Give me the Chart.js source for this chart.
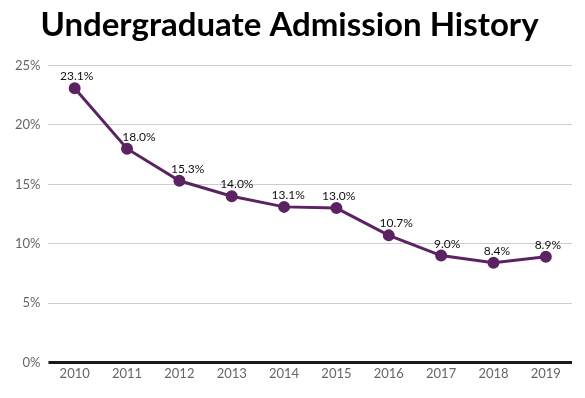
<!DOCTYPE html>
<html>
<head>
<meta charset="utf-8">
<script src="https://cdn.jsdelivr.net/npm/chart.js@4"></script>
<style>
  html, body { margin: 0; padding: 0; background: #fff; }
  #wrap { width: 585px; height: 398px; position: relative; }
</style>
</head>
<body>
<div id="wrap"><canvas id="chart"></canvas></div>
<script>
// Data
const years = ['2010', '2011', '2012', '2013', '2014', '2015', '2016', '2017', '2018', '2019'];
const admitRates = [23.1, 18.0, 15.3, 14.0, 13.1, 13.0, 10.7, 9.0, 8.4, 8.9];
const yTicks = [0, 5, 10, 15, 20, 25];

const lineColor = '#5c2362';

// draws the value above each point; nudges right when the line comes down steeply into it
const pointLabels = {
  id: 'pointLabels',
  afterDatasetsDraw(chart) {
    const ctx = chart.ctx;
    const pts = chart.getDatasetMeta(0).data;
    ctx.save();
    ctx.font = '12px Lato, "DejaVu Sans", sans-serif';
    ctx.fillStyle = '#111';
    ctx.textAlign = 'center';
    ctx.textBaseline = 'alphabetic';
    pts.forEach((pt, i) => {
      const drop = i > 0 ? Math.max(0, pt.y - pts[i - 1].y) : 0;
      const dx = Math.min(12, 2 + drop / 5);
      ctx.fillText(admitRates[i].toFixed(1) + '%', pt.x + dx, pt.y - 8);
    });
    ctx.restore();
  }
};

// thick baseline at 0%
const zeroLine = {
  id: 'zeroLine',
  beforeDatasetsDraw(chart) {
    const { ctx, chartArea, scales } = chart;
    const y = scales.y.getPixelForValue(0);
    ctx.save();
    ctx.strokeStyle = '#1a1a1a';
    ctx.lineWidth = 3;
    ctx.beginPath();
    ctx.moveTo(chartArea.left, y);
    ctx.lineTo(chartArea.right, y);
    ctx.stroke();
    ctx.restore();
  }
};

new Chart(document.getElementById('chart'), {
  type: 'line',
  data: {
    labels: years,
    datasets: [{
      label: 'Admission rate',
      data: admitRates,
      borderColor: lineColor,
      backgroundColor: lineColor,
      borderWidth: 3,
      pointRadius: 4.5,
      pointHoverRadius: 4.5,
      tension: 0
    }]
  },
  options: {
    responsive: true,
    maintainAspectRatio: false,
    animation: false,
    layout: { padding: { left: 7, right: 13, top: 0, bottom: 12 } },
    scales: {
      x: {
        offset: true,
        grid: { display: false, drawTicks: false },
        border: { display: false },
        ticks: {
          color: '#666',
          padding: 4,
          font: { family: 'Lato, "DejaVu Sans", sans-serif', size: 13 }
        }
      },
      y: {
        min: 0,
        max: 25,
        afterBuildTicks: axis => { axis.ticks = yTicks.map(v => ({ value: v })); },
        grid: { color: '#cccccc', lineWidth: 1, drawTicks: false },
        border: { display: false },
        ticks: {
          color: '#666',
          padding: 8,
          font: { family: 'Lato, "DejaVu Sans", sans-serif', size: 13 },
          callback: v => v + '%'
        }
      }
    },
    plugins: {
      legend: { display: false },
      tooltip: { enabled: false },
      title: {
        display: true,
        text: 'Undergraduate Admission History',
        color: '#000',
        font: { family: 'Lato, sans-serif', size: 33, weight: 'bold' },
        padding: { top: 6, bottom: 20 }
      }
    }
  },
  plugins: [zeroLine, pointLabels]
});
</script>
</body>
</html>
